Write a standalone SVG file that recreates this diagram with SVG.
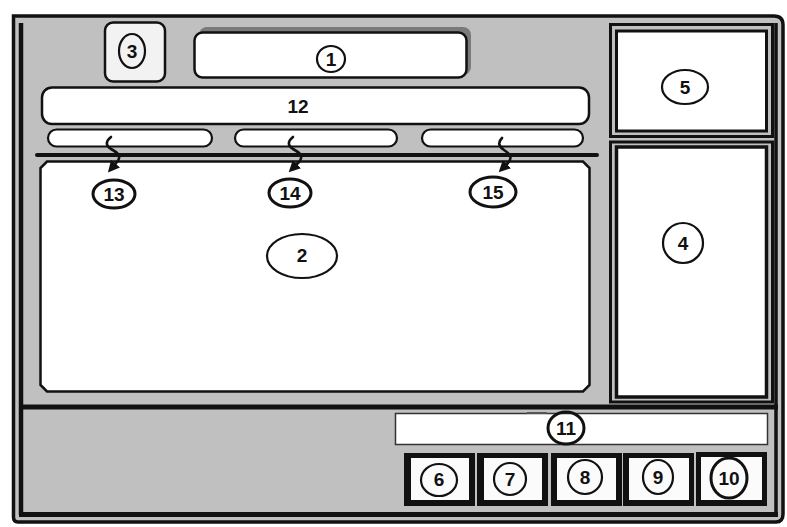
<svg xmlns="http://www.w3.org/2000/svg" width="787" height="527" viewBox="0 0 787 527">
<style>
  .num { font-family: "Liberation Sans Narrow", "Liberation Sans", Arial, sans-serif; font-size: 19px; font-weight: bold; fill: #111; text-anchor: middle; dominant-baseline: central; }
  .ring { fill: none; stroke: #111; stroke-width: 2.2; }
  .ringb { fill: none; stroke: #111; stroke-width: 3; }
  .panel { fill: #ffffff; stroke: #111; stroke-width: 2.5; }
  .pill { fill: #ffffff; stroke: #111; stroke-width: 2.2; }
  .btn { fill: #111; }
  .btnin { fill: #fbfbfb; }
  .frame { fill: none; stroke: #111; }
  .conn { fill: none; stroke: #111; stroke-width: 2.6; stroke-linecap: round; }
</style>
<defs>
  <marker id="ah" viewBox="0 0 10 10" refX="6" refY="5" markerWidth="4.5" markerHeight="4.5" orient="auto">
    <path d="M0,0 L10,5 L0,10 Z" fill="#111"/>
  </marker>
</defs>
<rect x="0" y="0" width="787" height="527" fill="#ffffff"/>

<!-- outer frame -->
<g id="frame">
  <path d="M13.5,16 H774 Q783,16 783,25 V514 Q783,522 776,522 H18 Q13.5,522 13.5,517 Z" fill="#c0c0c0" stroke="#111" stroke-width="3.5"/>
  <line x1="21" y1="23" x2="21" y2="515" class="frame" stroke-width="4.5"/>
  <line x1="776" y1="23" x2="776" y2="515" class="frame" stroke-width="3.5"/>
  <line x1="19" y1="407" x2="778" y2="407" class="frame" stroke-width="5"/>
  <line x1="19" y1="514.5" x2="778" y2="514.5" class="frame" stroke-width="5"/>
</g>

<!-- node 3 -->
<g id="node3">
  <rect x="105" y="22.5" width="60" height="59" rx="8" fill="#f2f2f2" stroke="#111" stroke-width="2.5"/>
  <ellipse cx="132" cy="51" rx="13" ry="17" class="ring"/>
  <text x="132" y="51" class="num">3</text>
</g>

<!-- node 1 -->
<g id="node1">
  <rect x="199" y="27" width="272" height="48" rx="8" fill="#7a7a7a"/>
  <rect x="194.5" y="32.5" width="272" height="45" rx="8" class="panel" stroke-width="3"/>
  <ellipse cx="331" cy="59" rx="14" ry="13" class="ring" stroke-width="1.8"/>
  <text x="331" y="59" class="num">1</text>
</g>

<!-- node 12 -->
<g id="node12">
  <rect x="42" y="87.5" width="547" height="36.5" rx="10" class="panel"/>
  <text x="298" y="106" class="num">12</text>
</g>

<!-- tab bars -->
<g id="tab13bar"><rect x="48" y="129.5" width="164" height="17" rx="8.5" class="pill"/></g>
<g id="tab14bar"><rect x="235" y="129.5" width="162" height="17" rx="8.5" class="pill"/></g>
<g id="tab15bar"><rect x="422" y="129.5" width="161" height="17" rx="8.5" class="pill"/></g>

<!-- separator line -->
<g id="separator">
  <line x1="37" y1="155" x2="597" y2="155" stroke="#111" stroke-width="4" stroke-linecap="round"/>
</g>

<!-- node 2 main area -->
<g id="node2">
  <path d="M47,161.5 H583 L589.5,168 V385 L583,391.5 H47 L40.5,385 V168 Z" class="panel"/>
  <ellipse cx="302" cy="256" rx="35" ry="22" class="ring"/>
  <text x="302" y="255" class="num">2</text>
</g>

<!-- nodes 13-15 -->
<g id="node13">
  <ellipse cx="114" cy="194" rx="21" ry="14" class="ringb"/>
  <text x="114" y="194" class="num">13</text>
</g>
<g id="node14">
  <ellipse cx="290" cy="193" rx="21" ry="14" class="ringb"/>
  <text x="290" y="193" class="num">14</text>
</g>
<g id="node15">
  <ellipse cx="493" cy="192" rx="23" ry="15" class="ringb"/>
  <text x="493" y="192" class="num">15</text>
</g>

<!-- node 5 -->
<g id="node5">
  <rect x="610.5" y="24.5" width="162" height="112" fill="#c0c0c0" stroke="#111" stroke-width="3"/>
  <rect x="616.5" y="31" width="150" height="100" fill="#ffffff" stroke="#111" stroke-width="3"/>
  <ellipse cx="685" cy="87" rx="23" ry="17" class="ring"/>
  <text x="685" y="87" class="num">5</text>
</g>

<!-- node 4 -->
<g id="node4">
  <rect x="610.5" y="142" width="162" height="260" fill="#c0c0c0" stroke="#111" stroke-width="3"/>
  <rect x="616.5" y="147" width="150" height="250" fill="#ffffff" stroke="#111" stroke-width="3.5"/>
  <ellipse cx="683" cy="243" rx="20" ry="20" class="ring"/>
  <text x="683" y="243" class="num">4</text>
</g>

<!-- node 11 -->
<g id="node11">
  <rect x="395.5" y="413.5" width="372" height="31" fill="#ffffff" stroke="#333" stroke-width="1.5"/>
  <line x1="527" y1="413" x2="547" y2="413" stroke="#555" stroke-width="2"/>
  <ellipse cx="566" cy="428" rx="18" ry="16" class="ringb"/>
  <text x="566" y="428" class="num">11</text>
</g>

<!-- buttons -->
<g id="node6">
  <rect x="404" y="453" width="71" height="53" class="btn"/>
  <rect x="411" y="458" width="58" height="42" class="btnin"/>
  <ellipse cx="439" cy="480" rx="18" ry="16" class="ring" stroke-width="1.6"/>
  <text x="439" y="479" class="num">6</text>
</g>
<g id="node7">
  <rect x="477" y="453" width="71" height="53" class="btn"/>
  <rect x="484" y="458" width="58" height="42" class="btnin"/>
  <ellipse cx="510" cy="479" rx="16" ry="16" class="ring" stroke-width="1.6"/>
  <text x="510" y="479" class="num">7</text>
</g>
<g id="node8">
  <rect x="551" y="453" width="71" height="53" class="btn"/>
  <rect x="557" y="458" width="59" height="42" class="btnin"/>
  <ellipse cx="585" cy="477" rx="17" ry="17" class="ring" stroke-width="1.6"/>
  <text x="585" y="477" class="num">8</text>
</g>
<g id="node9">
  <rect x="623" y="453" width="71" height="53" class="btn"/>
  <rect x="629" y="458" width="60" height="42" class="btnin"/>
  <ellipse cx="658" cy="477" rx="15" ry="17" class="ring" stroke-width="1.6"/>
  <text x="658" y="477" class="num">9</text>
</g>
<g id="node10">
  <rect x="696" y="452" width="71" height="54" class="btn"/>
  <rect x="701" y="457" width="61" height="43" class="btnin"/>
  <ellipse cx="729" cy="478" rx="18" ry="20" class="ringb"/>
  <text x="729" y="478" class="num">10</text>
</g>

<!-- connectors -->
<g id="connectors">
  <path d="M111,137 C106,141 105,145 111,149 C118,153 122,156 117,162 L111,169" class="conn" marker-end="url(#ah)"/>
  <path d="M293,137 C288,141 287,145 293,149 C300,153 304,156 299,162 L292,169" class="conn" marker-end="url(#ah)"/>
  <path d="M502,138 C498,142 498,146 504,150 C510,154 513,157 508,163 L502,169" class="conn" marker-end="url(#ah)"/>
</g>
</svg>
